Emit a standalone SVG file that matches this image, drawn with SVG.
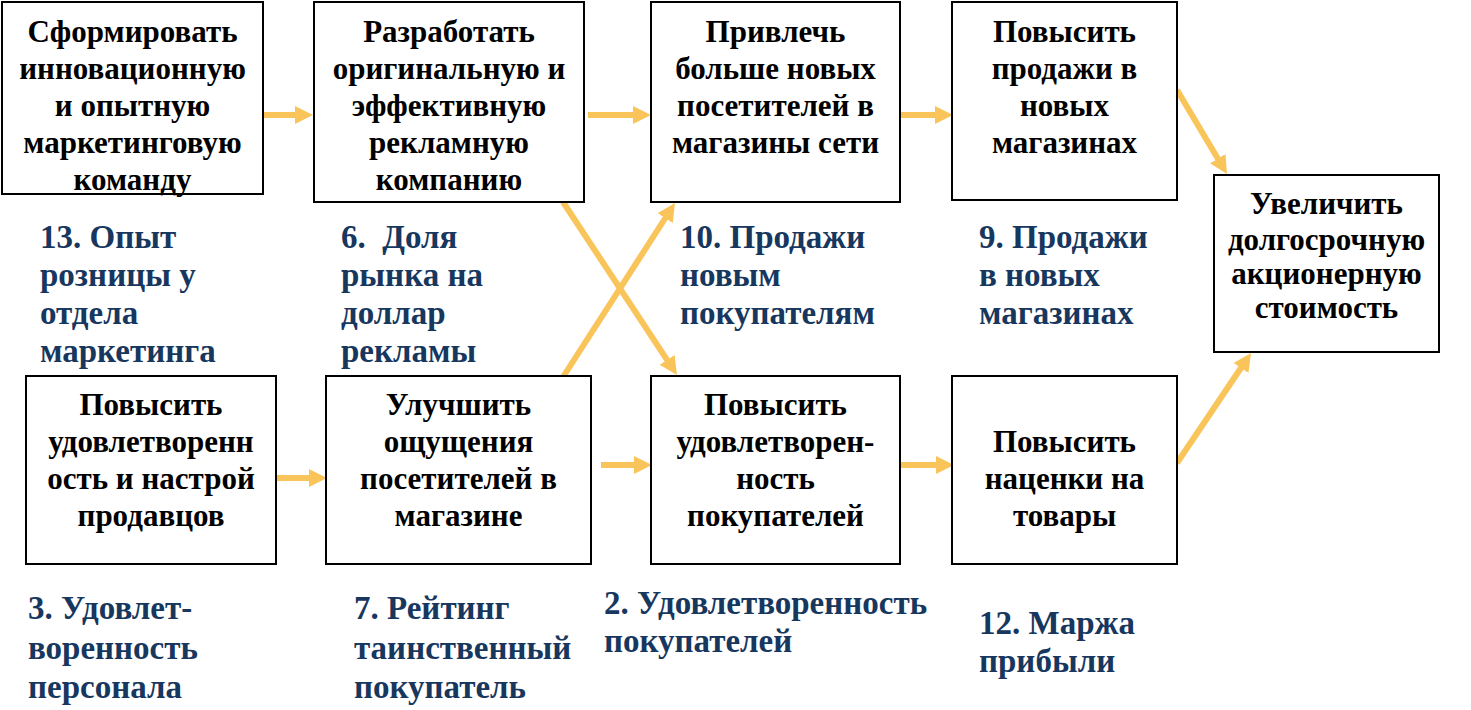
<svg xmlns="http://www.w3.org/2000/svg" width="1471" height="710" viewBox="0 0 1471 710">
<style>
.box{fill:#fff;stroke:#000;stroke-width:2}
.t{font-family:"Liberation Serif","Times New Roman",serif;font-weight:bold;font-size:31px;fill:#000;text-anchor:middle}
.k{font-family:"Liberation Serif","Times New Roman",serif;font-weight:bold;font-size:33px;fill:#17375E}
.c{stroke:#F9C55B;stroke-width:6;fill:none;marker-end:url(#ah)}
</style>
<defs>
<marker id="ah" viewBox="0 0 18 18" markerUnits="userSpaceOnUse" markerWidth="18" markerHeight="18" refX="2" refY="9" orient="auto">
<path d="M0,0 L18,9 L0,18 z" fill="#F9C55B"/>
</marker>
</defs>
<rect width="1471" height="710" fill="#fff"/>
<g id="connectors">
<line class="c" x1="264" y1="115" x2="297" y2="115"/>
<line class="c" x1="588" y1="115" x2="635" y2="115"/>
<line class="c" x1="901" y1="115" x2="937" y2="115"/>
<line class="c" x1="277" y1="478" x2="311" y2="478"/>
<line class="c" x1="601" y1="465" x2="636" y2="465"/>
<line class="c" x1="900" y1="465" x2="938" y2="465"/>
<line class="c" x1="1177" y1="90" x2="1218.8" y2="160.3"/>
<line class="c" x1="1177" y1="463" x2="1242.1" y2="366.3"/>
<line class="c" x1="563" y1="202" x2="668.2" y2="361.6"/>
<line class="c" x1="563" y1="377" x2="666.3" y2="216.5"/>
</g>
<g id="n1">
<rect class="box" x="2" y="2" width="261" height="192"/>
<text class="t" x="132.5" y="42">Сформировать</text>
<text class="t" x="132.5" y="79">инновационную</text>
<text class="t" x="132.5" y="116">и опытную</text>
<text class="t" x="132.5" y="153">маркетинговую</text>
<text class="t" x="132.5" y="190">команду</text>
</g>
<g id="n2">
<rect class="box" x="314" y="2" width="270" height="200"/>
<text class="t" x="449" y="42">Разработать</text>
<text class="t" x="449" y="79">оригинальную и</text>
<text class="t" x="449" y="116">эффективную</text>
<text class="t" x="449" y="153">рекламную</text>
<text class="t" x="449" y="190">компанию</text>
</g>
<g id="n3">
<rect class="box" x="651" y="2" width="249" height="200"/>
<text class="t" x="775.5" y="42">Привлечь</text>
<text class="t" x="775.5" y="79">больше новых</text>
<text class="t" x="775.5" y="116">посетителей в</text>
<text class="t" x="775.5" y="153">магазины сети</text>
</g>
<g id="n4">
<rect class="box" x="952" y="2" width="225" height="198"/>
<text class="t" x="1064.5" y="42">Повысить</text>
<text class="t" x="1064.5" y="79">продажи в</text>
<text class="t" x="1064.5" y="116">новых</text>
<text class="t" x="1064.5" y="153">магазинах</text>
</g>
<g id="n5">
<rect class="box" x="1214" y="175" width="225" height="177"/>
<text class="t" x="1326.5" y="214">Увеличить</text>
<text class="t" x="1326.5" y="250">долгосрочную</text>
<text class="t" x="1326.5" y="284">акционерную</text>
<text class="t" x="1326.5" y="318">стоимость</text>
</g>
<g id="n6">
<rect class="box" x="26" y="376" width="250" height="188"/>
<text class="t" x="151" y="415">Повысить</text>
<text class="t" x="151" y="452">удовлетворенн</text>
<text class="t" x="151" y="489">ость и настрой</text>
<text class="t" x="151" y="526">продавцов</text>
</g>
<g id="n7">
<rect class="box" x="326" y="376" width="265" height="188"/>
<text class="t" x="458.5" y="415">Улучшить</text>
<text class="t" x="458.5" y="452">ощущения</text>
<text class="t" x="458.5" y="489">посетителей в</text>
<text class="t" x="458.5" y="526">магазине</text>
</g>
<g id="n8">
<rect class="box" x="651" y="376" width="249" height="188"/>
<text class="t" x="775.5" y="415">Повысить</text>
<text class="t" x="775.5" y="452">удовлетворен-</text>
<text class="t" x="775.5" y="489">ность</text>
<text class="t" x="775.5" y="526">покупателей</text>
</g>
<g id="n9">
<rect class="box" x="952" y="376" width="225" height="188"/>
<text class="t" x="1064.5" y="452">Повысить</text>
<text class="t" x="1064.5" y="489">наценки на</text>
<text class="t" x="1064.5" y="526">товары</text>
</g>
<g id="k13">
<text class="k" x="40" y="248">13. Опыт</text>
<text class="k" x="40" y="286">розницы у</text>
<text class="k" x="40" y="324">отдела</text>
<text class="k" x="40" y="362">маркетинга</text>
</g>
<g id="k6">
<text class="k" x="341" y="248" xml:space="preserve">6.  Доля</text>
<text class="k" x="341" y="286">рынка на</text>
<text class="k" x="341" y="324">доллар</text>
<text class="k" x="341" y="362">рекламы</text>
</g>
<g id="k10">
<text class="k" x="680" y="248">10. Продажи</text>
<text class="k" x="680" y="286">новым</text>
<text class="k" x="680" y="324">покупателям</text>
</g>
<g id="k9">
<text class="k" x="979" y="248">9. Продажи</text>
<text class="k" x="979" y="286">в новых</text>
<text class="k" x="979" y="324">магазинах</text>
</g>
<g id="k3">
<text class="k" x="28" y="619">3. Удовлет-</text>
<text class="k" x="28" y="659">воренность</text>
<text class="k" x="28" y="698">персонала</text>
</g>
<g id="k7">
<text class="k" x="354" y="619">7. Рейтинг</text>
<text class="k" x="354" y="659">таинственный</text>
<text class="k" x="354" y="698">покупатель</text>
</g>
<g id="k2">
<text class="k" x="604" y="614">2. Удовлетворенность</text>
<text class="k" x="604" y="652">покупателей</text>
</g>
<g id="k12">
<text class="k" x="979" y="634">12. Маржа</text>
<text class="k" x="979" y="672">прибыли</text>
</g>
</svg>
